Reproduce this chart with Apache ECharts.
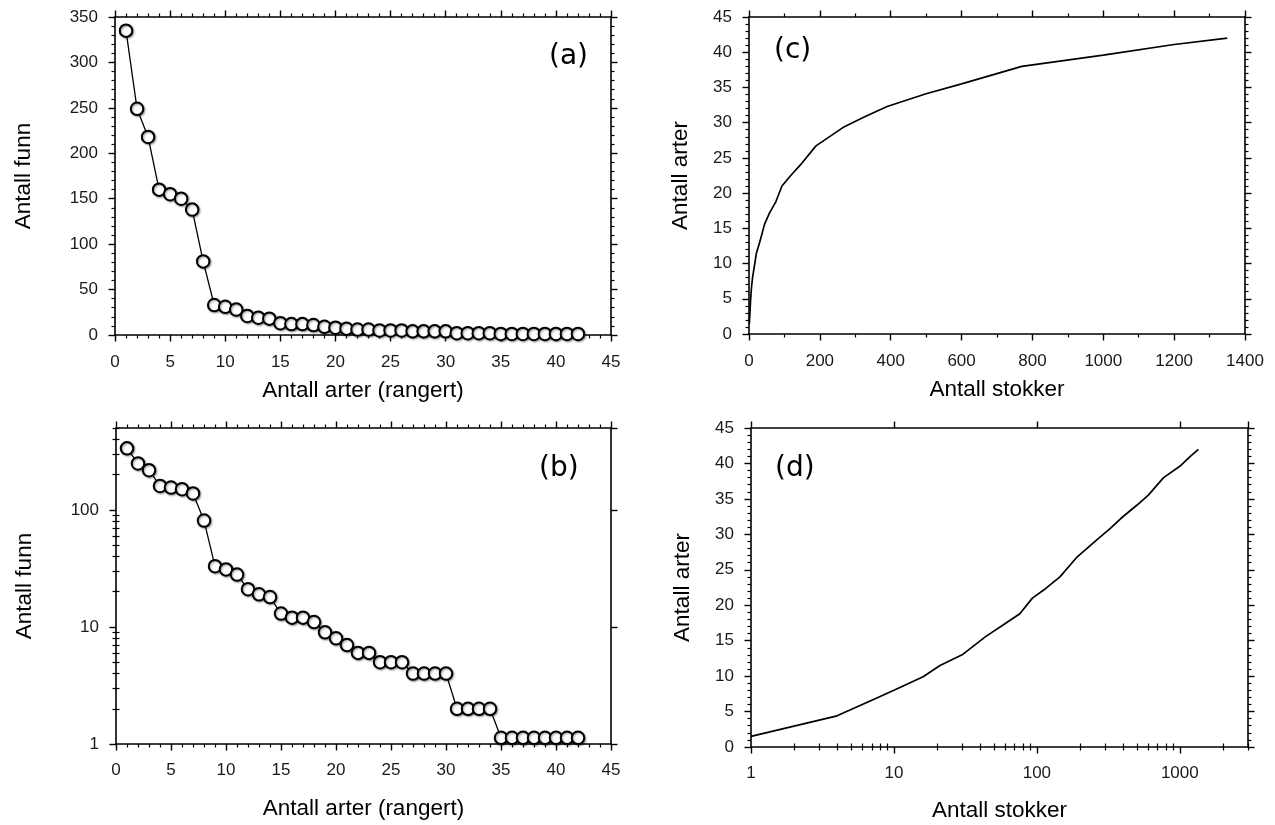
<!DOCTYPE html>
<html><head><meta charset="utf-8">
<script src="https://cdn.jsdelivr.net/npm/echarts@6/dist/echarts.min.js"></script>
<style>html,body{margin:0;padding:0;background:#fff}#c{width:1275px;height:825px}</style>
</head><body><div id="c"></div>
<script>
// ---- data ----
const rank = [1,2,3,4,5,6,7,8,9,10,11,12,13,14,15,16,17,18,19,20,21,22,23,24,25,26,27,28,29,30,31,32,33,34,35,36,37,38,39,40,41,42];
const antallFunn = [335,249,218,160,155,150,138,81,33,31,28,21,19,18,13,12,12,11,9,8,7,6,6,5,5,5,4,4,4,4,2,2,2,2,1.13,1.13,1.13,1.13,1.13,1.13,1.13,1.13];
const stokker = [1,4,7,10,16,21,30,44,58,76,93,116,145,189,265,325,390,500,600,770,1000,1200,1350];
const arter = [1.5,4.4,6.6,8,9.9,11.5,13,15.6,17.2,18.8,21,22.4,24,26.7,29.3,30.8,32.3,34.1,35.5,38,39.6,41.1,42];
const logMinorFunn = [2,3,4,5,6,7,8,9,20,30,40,50,60,70,80,90,200,300,400,500];
const logMinorStokker = [2,3,4,5,6,7,8,9,20,30,40,50,60,70,80,90,200,300,400,500,600,700,800,900,2000,3000];
const panelLabels = ['(a)','(b)','(c)','(d)'];

const FONT = '"Liberation Sans", Arial, sans-serif';
const K = '#000';
const lineW = 1.6;

function axisBase(gridIndex, position, extra) {
  const a = {
    gridIndex, position,
    axisLine: {show: true, onZero: false, lineStyle: {color: K, width: lineW}},
    axisTick: {show: true, inside: false, length: 6.5, lineStyle: {color: K, width: 1.4}},
    axisLabel: {show: false},
    splitLine: {show: false},
    minorSplitLine: {show: false}
  };
  return Object.assign(a, extra);
}
function labelStyle(margin) {
  return {show: true, fontFamily: FONT, fontSize: 17, color: '#1a1a1a', margin,
    formatter: v => String(v)};
}
function nameStyle() { return {fontFamily: FONT, fontSize: 22.5, color: K}; }
function minor(split) { return {show: true, splitNumber: split, length: 3.5, lineStyle: {color: K, width: 1.2}}; }
function logMinorTick(vals) { return {show:true,length:3.5,customValues:vals,lineStyle:{color:K,width:1.2}}; }

const xAxis = [], yAxis = [];
// Panel (a) grid 0
xAxis.push(axisBase(0,'bottom',{type:'value',min:0,max:45,interval:5,minorTick:minor(5),axisLabel:labelStyle(19),
  name:'Antall arter (rangert)',nameLocation:'middle',nameGap:44,nameTextStyle:nameStyle()}));
xAxis.push(axisBase(0,'top',{type:'value',min:0,max:45,interval:5,minorTick:minor(5)}));
yAxis.push(axisBase(0,'left',{type:'value',min:0,max:350,interval:50,minorTick:minor(5),axisLabel:labelStyle(17),
  name:'Antall funn',nameLocation:'middle',nameGap:80,nameTextStyle:nameStyle()}));
yAxis.push(axisBase(0,'right',{type:'value',min:0,max:350,interval:50,minorTick:minor(5)}));
// Panel (b) grid 1
xAxis.push(axisBase(1,'bottom',{type:'value',min:0,max:45,interval:5,minorTick:minor(5),axisLabel:labelStyle(18),
  name:'Antall arter (rangert)',nameLocation:'middle',nameGap:53,nameTextStyle:nameStyle()}));
xAxis.push(axisBase(1,'top',{type:'value',min:0,max:45,interval:5,minorTick:minor(5)}));
yAxis.push(axisBase(1,'left',{type:'log',logBase:10,min:1,max:500,axisLabel:Object.assign(labelStyle(17),{showMaxLabel:false}),
  name:'Antall funn',nameLocation:'middle',nameGap:80,nameTextStyle:nameStyle()}));
yAxis.push(axisBase(1,'right',{type:'log',logBase:10,min:1,max:500}));
yAxis.push(axisBase(1,'left',{type:'log',logBase:10,min:1,max:500,axisLine:{show:false},axisTick:logMinorTick(logMinorFunn)}));
yAxis.push(axisBase(1,'right',{type:'log',logBase:10,min:1,max:500,axisLine:{show:false},axisTick:logMinorTick(logMinorFunn)}));
// Panel (c) grid 2
xAxis.push(axisBase(2,'bottom',{type:'value',min:0,max:1400,interval:200,minorTick:minor(2),axisLabel:labelStyle(19),
  name:'Antall stokker',nameLocation:'middle',nameGap:44,nameTextStyle:nameStyle()}));
xAxis.push(axisBase(2,'top',{type:'value',min:0,max:1400,interval:200,minorTick:minor(2)}));
yAxis.push(axisBase(2,'left',{type:'value',min:0,max:45,interval:5,minorTick:minor(5),axisLabel:labelStyle(17),
  name:'Antall arter',nameLocation:'middle',nameGap:57,nameTextStyle:nameStyle()}));
yAxis.push(axisBase(2,'right',{type:'value',min:0,max:45,interval:5,minorTick:minor(5)}));
// Panel (d) grid 3
xAxis.push(axisBase(3,'bottom',{type:'log',logBase:10,min:1,max:3000,axisLabel:Object.assign(labelStyle(18),{showMaxLabel:false}),
  name:'Antall stokker',nameLocation:'middle',nameGap:52,nameTextStyle:nameStyle()}));
xAxis.push(axisBase(3,'top',{type:'log',logBase:10,min:1,max:3000}));
xAxis.push(axisBase(3,'bottom',{type:'log',logBase:10,min:1,max:3000,axisLine:{show:false},axisTick:logMinorTick(logMinorStokker)}));
xAxis.push(axisBase(3,'top',{type:'log',logBase:10,min:1,max:3000,axisLine:{show:false},axisTick:logMinorTick(logMinorStokker)}));
yAxis.push(axisBase(3,'left',{type:'value',min:0,max:45,interval:5,minorTick:minor(5),axisLabel:labelStyle(17),
  name:'Antall arter',nameLocation:'middle',nameGap:57,nameTextStyle:nameStyle()}));
yAxis.push(axisBase(3,'right',{type:'value',min:0,max:45,interval:5,minorTick:minor(5)}));

const rankData = rank.map((r,i)=>[r, antallFunn[i]]);
const curveData = stokker.map((s,i)=>[s, arter[i]]);

const dotSeries = (xi, yi) => ({
  type:'line', xAxisIndex:xi, yAxisIndex:yi, data:rankData, symbol:'circle', symbolSize:12.5,
  lineStyle:{color:K,width:1.3}, itemStyle:{color:'#fff',borderColor:K,borderWidth:2,
  shadowColor:'rgba(0,0,0,0.4)',shadowBlur:2,shadowOffsetX:1,shadowOffsetY:1}, animation:false, z:5
});
const curveSeries = (xi, yi) => ({
  type:'line', xAxisIndex:xi, yAxisIndex:yi, data:curveData, showSymbol:false, symbol:'none',
  lineStyle:{color:K,width:1.7}, animation:false
});

const titles = [
  {left:549, top:43},{left:539, top:455},{left:774, top:37},{left:775, top:455}
].map((p,i)=>({text:panelLabels[i], left:p.left, top:p.top, padding:0,
  textStyle:{fontFamily:'"DejaVu Sans", sans-serif', fontSize:28, fontWeight:'normal', color:K}}));

const option = {
  animation:false,
  backgroundColor:'#fff',
  title: titles,
  grid:[
    {left:115, top:17, width:496, height:318, outerBoundsMode:'none'},
    {left:116, top:428, width:495, height:316, outerBoundsMode:'none'},
    {left:749, top:17, width:496, height:317, outerBoundsMode:'none'},
    {left:751, top:428, width:497, height:319, outerBoundsMode:'none'}
  ],
  xAxis, yAxis,
  series:[
    dotSeries(0,0),
    dotSeries(2,2),
    curveSeries(4,6),
    curveSeries(6,8)
  ]
};
const chart = echarts.init(document.getElementById('c'), null, {renderer:'canvas'});
chart.setOption(option);
</script></body></html>
